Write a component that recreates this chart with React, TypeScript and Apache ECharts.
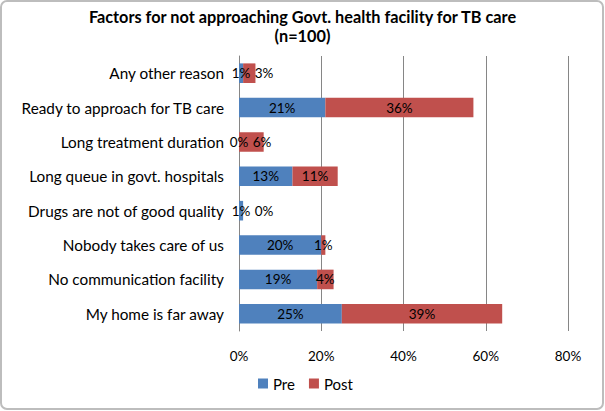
import React, { useEffect, useRef } from "react";
import * as echarts from "echarts";

const categories = [
  "My home is far away",
  "No communication facility",
  "Nobody takes care of us",
  "Drugs are not of good quality",
  "Long queue in govt. hospitals",
  "Long treatment duration",
  "Ready to approach for TB care",
  "Any other reason",
];
const preValues = [25, 19, 20, 1, 13, 0, 21, 1];
const postValues = [39, 4, 1, 0, 11, 6, 36, 3];
const xTicks = [0, 20, 40, 60, 80];

const FONT = "Lato, 'Open Sans', sans-serif";
const GRID_LEFT = 239;
const GRID_RIGHT = 37;
const CHART_W = 605;

export default function App() {
  const ref = useRef<HTMLDivElement>(null);
  useEffect(() => {
    if (!ref.current) return;
    const chart = echarts.init(ref.current, undefined, { renderer: "svg" });
    const pxPerUnit = (CHART_W - GRID_LEFT - GRID_RIGHT) / (xTicks[xTicks.length - 1] - xTicks[0]);
    const minSep = 23;
    const label = {
      show: true,
      position: "inside" as const,
      formatter: "{c}%",
      color: "#000",
      fontFamily: FONT,
      fontSize: 13.5,
    };
    // shift a Post label right when it would collide with the Pre label (as Excel does)
    const postData = postValues.map((v, i) => {
      const preCenter = (preValues[i] / 2) * pxPerUnit;
      const postCenter = (preValues[i] + v / 2) * pxPerUnit;
      const sep = postCenter - preCenter;
      const shift = sep < minSep ? minSep - sep : 0;
      return shift > 0 ? { value: v, label: { offset: [shift, 0] } } : v;
    });
    chart.setOption({
      animation: false,
      backgroundColor: "#fff",
      textStyle: { fontFamily: FONT },
      title: {
        text: "Factors for not approaching Govt. health facility for TB care\n(n=100)",
        left: "center",
        top: 2,
        textStyle: { fontFamily: FONT, fontSize: 16.3, fontWeight: "bold", color: "#000", lineHeight: 19 },
      },
      graphic: [
        {
          type: "rect",
          shape: { x: 1, y: 1, width: 602, height: 408, r: 6 },
          style: { fill: "none", stroke: "#bdbdbd", lineWidth: 2 },
          silent: true,
        },
      ],
      legend: {
        top: 371,
        left: 253,
        itemWidth: 10,
        itemHeight: 10,
        itemGap: 14,
        icon: "rect",
        textStyle: { fontFamily: FONT, fontSize: 15, color: "#000" },
        data: ["Pre", "Post"],
      },
      grid: { left: GRID_LEFT, right: GRID_RIGHT, top: 56, bottom: 80, containLabel: false },
      xAxis: {
        type: "value",
        min: xTicks[0],
        max: xTicks[xTicks.length - 1],
        interval: 20,
        axisLine: { show: false },
        axisTick: { show: false },
        axisLabel: { formatter: "{value}%", color: "#000", fontFamily: FONT, fontSize: 13.5, margin: 18 },
        splitLine: { show: true, lineStyle: { color: "#868686", width: 1 } },
      },
      yAxis: {
        type: "category",
        data: categories,
        axisLine: { show: true, lineStyle: { color: "#868686" } },
        axisTick: { show: false },
        axisLabel: { color: "#000", fontFamily: FONT, fontSize: 15.3, margin: 15 },
      },
      series: [
        {
          name: "Pre",
          type: "bar",
          stack: "total",
          data: preValues,
          barWidth: "57%",
          itemStyle: { color: "#4F81BD" },
          label,
        },
        {
          name: "Post",
          type: "bar",
          stack: "total",
          data: postData,
          barWidth: "57%",
          itemStyle: { color: "#C0504D" },
          label,
        },
      ],
    });
    return () => chart.dispose();
  }, []);
  return (
    <div
      ref={ref}
      style={{ position: "fixed", left: 0, top: 0, width: CHART_W, height: 411 }}
    />
  );
}
